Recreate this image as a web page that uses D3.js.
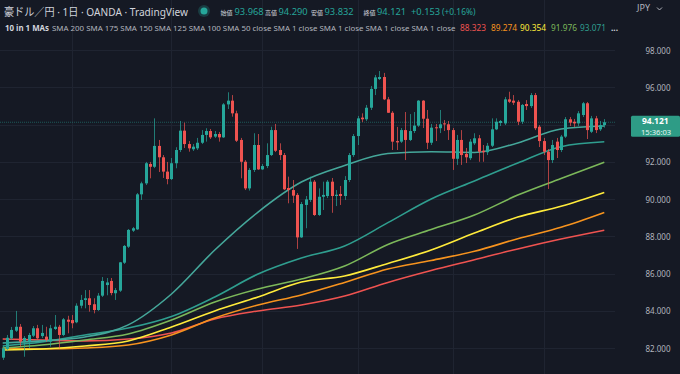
<!DOCTYPE html>
<html><head><meta charset="utf-8">
<script src="https://cdn.jsdelivr.net/npm/d3@7"></script>
<style>html,body{margin:0;padding:0;background:#151924;overflow:hidden}</style>
</head><body>
<svg id="c" width="680" height="374"></svg>
<script>
// ---- data (AUD/JPY daily) ----
const opens  = [81.48,81.95,82.52,82.93,83.14,82.38,82.34,82.66,83.06,82.64,82.61,82.34,83.02,83.14,82.70,83.52,83.50,83.38,84.27,84.58,84.67,84.35,84.04,84.81,85.38,85.60,84.94,85.08,86.58,87.44,88.30,88.37,90.25,90.84,91.88,91.73,92.85,92.24,91.47,91.07,91.92,92.63,93.67,92.95,92.67,92.72,93.02,93.44,93.65,93.35,93.49,93.31,95.08,95.28,94.60,93.17,92.00,90.57,91.56,92.90,91.59,91.77,92.36,93.70,92.63,92.36,90.59,90.48,90.22,87.94,89.68,89.95,90.93,89.14,90.12,90.16,90.93,90.16,90.27,90.16,91.02,92.36,93.38,94.37,94.28,94.90,95.91,96.44,96.55,95.35,94.63,93.11,93.08,93.70,93.17,93.65,93.94,95.28,94.31,93.02,93.85,93.80,94.06,94.01,93.70,92.16,93.17,92.42,92.19,92.99,93.26,92.59,92.51,92.86,93.74,94.08,94.06,95.35,95.28,95.22,94.15,95.10,94.99,95.58,93.88,93.11,92.54,92.09,93.08,92.63,93.35,94.28,94.15,94.06,94.51,95.14,93.61,94.33,93.74,93.968];
const highs  = [82.11,82.70,83.13,83.99,83.29,82.64,82.81,83.18,83.24,83.24,83.14,83.24,83.77,83.24,83.61,83.73,83.77,84.40,84.85,85.11,85.11,84.67,84.95,85.81,85.76,85.76,85.22,86.62,87.53,88.39,88.50,90.32,90.93,91.99,91.99,94.33,93.17,92.36,91.99,92.20,92.78,94.19,94.10,93.11,92.95,93.28,93.70,93.80,93.76,93.65,93.60,95.15,95.73,95.58,94.74,93.28,92.09,91.66,93.53,93.49,91.88,92.99,93.88,94.03,92.99,92.47,91.20,91.02,90.32,89.84,90.16,91.20,91.02,90.57,90.93,91.02,91.13,90.48,90.70,91.23,92.47,93.49,94.46,94.60,95.05,96.07,96.66,96.87,96.77,95.48,94.72,93.87,93.81,94.67,94.56,94.67,95.31,95.31,94.78,94.03,94.03,94.78,94.24,94.19,93.81,93.44,93.70,92.74,93.22,93.53,93.44,92.90,93.01,94.33,94.33,94.24,95.48,95.76,95.58,95.31,95.10,95.31,95.69,95.69,93.97,93.28,92.68,93.17,93.28,93.44,94.40,94.40,94.30,94.72,95.21,95.21,94.46,94.46,94.19,94.290];
const lows   = [81.36,81.89,82.43,82.86,82.07,81.53,82.00,82.59,82.43,82.54,82.34,82.07,82.97,81.98,82.64,82.79,83.06,83.33,84.13,84.13,83.95,83.86,83.99,84.74,84.83,84.83,84.58,85.01,86.51,87.37,88.23,88.34,89.95,90.75,91.11,91.66,91.45,91.13,90.79,91.02,91.65,92.52,92.74,92.54,92.58,92.63,92.95,93.08,93.22,93.28,93.08,93.28,94.83,94.42,93.06,91.11,90.48,90.45,91.45,91.56,91.56,91.66,92.31,92.52,92.09,90.48,89.77,89.79,87.32,87.91,88.43,89.84,89.09,89.09,89.41,90.05,89.26,89.62,89.68,89.95,90.91,92.26,92.90,94.13,94.19,94.78,95.58,96.39,95.31,94.62,92.63,92.63,93.01,92.09,93.11,93.54,93.87,93.81,92.68,92.90,93.11,93.54,93.65,93.17,91.56,91.83,91.83,91.93,92.09,92.90,92.00,92.00,92.36,92.79,93.70,93.92,93.97,95.15,95.05,93.97,94.03,94.78,94.89,93.70,92.79,92.36,90.54,91.93,92.20,92.52,93.28,93.92,93.87,93.92,94.40,93.22,93.54,93.54,93.65,93.832];
const closes = [81.98,82.55,82.97,83.14,82.34,82.54,82.70,83.06,82.52,82.81,82.43,83.06,83.14,82.70,83.54,83.41,83.33,84.27,84.58,84.67,84.31,84.04,84.81,85.60,85.52,84.95,85.11,86.60,87.48,88.34,88.43,90.25,90.84,91.92,91.73,92.85,92.24,91.47,91.07,91.92,92.63,93.67,92.95,92.72,92.81,93.02,93.44,93.65,93.31,93.49,93.31,95.08,95.28,94.60,93.13,92.00,90.57,91.56,92.90,91.59,91.77,92.36,93.70,92.59,92.36,90.52,90.48,90.18,87.94,89.73,89.98,90.93,89.14,90.12,90.22,90.93,90.16,90.23,90.16,91.02,92.36,93.38,94.33,94.28,94.90,95.91,96.53,96.55,95.35,94.63,93.08,93.04,93.70,93.17,93.65,93.94,95.28,94.31,93.02,93.83,93.80,94.01,94.01,93.70,92.16,93.17,92.36,92.24,93.08,93.26,92.54,92.51,92.86,93.74,94.15,94.19,95.35,95.22,95.17,94.15,95.05,94.99,95.58,93.80,93.11,92.54,92.09,92.90,92.63,93.35,94.28,94.10,94.06,94.60,95.14,93.70,94.33,93.70,93.97,94.121];

// moving averages, sampled at these candle indices
const maIndex = [0,9,19,29,39,49,59,69,79,89,99,109,119,129,139];
const sma200 = [82.48,82.43,82.38,82.48,82.81,83.56,83.99,84.31,84.79,85.52,86.16,86.74,87.32,87.85,88.323];
const sma175 = [82.00,81.95,82.00,82.16,82.70,83.61,84.31,84.85,85.52,86.24,86.70,87.19,87.87,88.48,89.274];
const sma150 = [81.89,81.95,82.11,82.38,83.13,83.99,84.74,85.54,85.87,86.54,87.26,88.17,89.03,89.61,90.354];
const sma125 = [82.00,82.16,82.43,82.75,83.50,84.47,85.17,85.70,86.40,87.56,88.36,89.14,90.21,91.10,91.976];
const sma100 = [82.11,82.32,82.70,83.07,83.69,84.74,85.97,86.83,87.48,88.73,90.00,90.97,91.93,92.81,93.071];
const sma50  = [82.27,82.38,82.59,83.24,84.90,87.26,89.30,90.91,91.80,92.44,92.54,92.50,93.01,93.76,93.92];
const maColors = ["#ef5350","#f7931e","#ffeb3b","#7cb85a","#2f9e8f","#45a79a"];

const yTicks = [82,84,86,88,90,92,94,96,98];
const yLabelTicks = [82,84,86,88,90,92,96,98];
const monthStarts = [16,39,60,82,104,125];

const title = "豪ドル／円 · 1日 · OANDA · TradingView";
const ohlcLabels = ["始値","高値","安値","終値"];
const ohlcValues = ["93.968","94.290","93.832","94.121"];
const change = "+0.153", changePct = "(+0.16%)";
const legendName = "10 in 1 MAs";
const legendParams = "SMA 200 SMA 175 SMA 150 SMA 125 SMA 100 SMA 50 close SMA 1 close SMA 1 close SMA 1 close SMA 1 close";
const legendValues = ["88.323","89.274","90.354","91.976","93.071"];
const lastPrice = 94.121, lastTime = "15:36:03";

// ---- drawing ----
const svg = d3.select("#c");
const W = 680, H = 374, plotR = 615;
const UP = "#26a69a", DOWN = "#ef5350";
const FONT = "'Noto Sans','Noto Sans CJK JP',sans-serif";

svg.append("rect").attr("width",W).attr("height",H).attr("fill","#151924");

const x = d3.scaleLinear().domain([0, closes.length-1]).range([2.7, 604.3]);
const y = d3.scaleLinear().domain([82, 98]).range([348, 50]);

// grid
const grid = svg.append("g").attr("stroke","#1f2431").attr("stroke-width",1);
grid.selectAll("line.h").data(yTicks).join("line")
  .attr("x1",0).attr("x2",plotR).attr("y1",d=>Math.round(y(d))+0.5).attr("y2",d=>Math.round(y(d))+0.5);
grid.selectAll("line.v").data(monthStarts).join("line")
  .attr("y1",0).attr("y2",H).attr("x1",d=>Math.round(x(d))+0.5).attr("x2",d=>Math.round(x(d))+0.5);

// MA lines
const maSeries = [sma200,sma175,sma150,sma125,sma100,sma50];
const line = d3.line().x(d=>x(d[0])).y(d=>y(d[1])).curve(d3.curveMonotoneX);
svg.append("g").selectAll("path").data(maSeries).join("path")
  .attr("d",s=>line(maIndex.map((ix,k)=>[ix,s[k]])))
  .attr("fill","none").attr("stroke",(d,i)=>maColors[i]).attr("stroke-width",1.6);

// last price line
svg.append("line").attr("x1",0).attr("x2",plotR)
  .attr("y1",y(lastPrice)).attr("y2",y(lastPrice))
  .attr("stroke",UP).attr("stroke-opacity",0.45).attr("stroke-width",1).attr("stroke-dasharray","1,1");

// candles
const idx = d3.range(closes.length);
const cg = svg.append("g");
cg.selectAll("line").data(idx).join("line")
  .attr("x1",i=>Math.round(x(i))+0.5).attr("x2",i=>Math.round(x(i))+0.5)
  .attr("y1",i=>y(highs[i])).attr("y2",i=>y(lows[i]))
  .attr("stroke",i=>closes[i]>=opens[i]?UP:DOWN).attr("stroke-opacity",0.7).attr("stroke-width",1);
cg.selectAll("rect").data(idx).join("rect")
  .attr("x",i=>Math.round(x(i))-1).attr("width",3)
  .attr("y",i=>y(Math.max(opens[i],closes[i])))
  .attr("height",i=>Math.max(1,Math.abs(y(opens[i])-y(closes[i]))))
  .attr("fill",i=>closes[i]>=opens[i]?UP:DOWN);

// price axis labels
svg.append("g").selectAll("text").data(yLabelTicks).join("text")
  .attr("x",645.5).attr("y",d=>y(d)+3.5)
  .attr("font-family",FONT).attr("font-size",9.5).attr("fill","#b2b5be")
  .attr("textLength",25).attr("lengthAdjust","spacingAndGlyphs")
  .text(d=>d3.format(".3f")(d));

// current price tag
const ty = y(lastPrice);
svg.append("rect").attr("x",631).attr("y",ty-6.5).attr("width",49).attr("height",21).attr("rx",1.5).attr("fill","#2e9c86");
svg.append("text").attr("font-family",FONT).attr("x",642).attr("y",ty+2)
  .attr("font-size",8.5).attr("font-weight","bold").attr("fill","#ffffff")
  .text(d3.format(".3f")(lastPrice));
svg.append("text").attr("font-family",FONT).attr("x",641).attr("y",ty+12.3)
  .attr("font-size",7.6).attr("fill","#e6f4f1").text(lastTime);

// header line 1
svg.append("text").attr("x",4).attr("y",15.5).attr("font-family",FONT).attr("font-size",11)
  .attr("fill","#d1d4dc").attr("textLength",184).attr("lengthAdjust","spacingAndGlyphs").text(title);
svg.append("circle").attr("cx",204).attr("cy",11).attr("r",6).attr("fill",UP).attr("opacity",0.25);
svg.append("circle").attr("cx",204).attr("cy",11).attr("r",3.5).attr("fill",UP);

const seg = [
  [220.5,ohlcLabels[0],"#d1d4dc",6],[234.5,ohlcValues[0],UP,9.3],
  [265,ohlcLabels[1],"#d1d4dc",6],[278.5,ohlcValues[1],UP,9.3],
  [311,ohlcLabels[2],"#d1d4dc",6],[324.5,ohlcValues[2],UP,9.3],
  [363.5,ohlcLabels[3],"#d1d4dc",6],[377,ohlcValues[3],UP,9.3],
  [411,change,UP,9.3],[442,changePct,UP,8.4]
];
const t1 = svg.append("text").attr("y",15).attr("font-family",FONT);
seg.forEach(d=>t1.append("tspan").attr("x",d[0]).attr("font-size",d[3]).attr("fill",d[2]).text(d[1]));

// JPY
svg.append("text").attr("x",637).attr("y",11).attr("font-family",FONT).attr("font-size",9)
  .attr("fill","#b2b5be").text("JPY");
svg.append("path").attr("d","M657,7.5 L659.5,10 L662,7.5").attr("fill","none").attr("stroke","#b2b5be").attr("stroke-width",1);

// header line 2 (legend) as one text with tspans
const lvx = [460,491,520,551,580];
const lvc = ["#ef5350","#f7931e","#ffeb3b","#7cb85a","#2f9e8f"];
const t2 = svg.append("text").attr("y",30.5).attr("font-family",FONT).attr("font-size",8.3);
t2.append("tspan").attr("x",5).attr("font-weight","bold").attr("fill","#d1d4dc").attr("font-size",7.9).text(legendName);
t2.append("tspan").attr("x",52).attr("fill","#b2b5be").attr("font-size",7.9).text(legendParams);
legendValues.forEach((v,i)=>t2.append("tspan").attr("x",lvx[i]).attr("fill",lvc[i]).text(v));
t2.append("tspan").attr("x",611).attr("font-weight","bold").attr("fill","#d1d4dc").text("...");
</script>
</body></html>
